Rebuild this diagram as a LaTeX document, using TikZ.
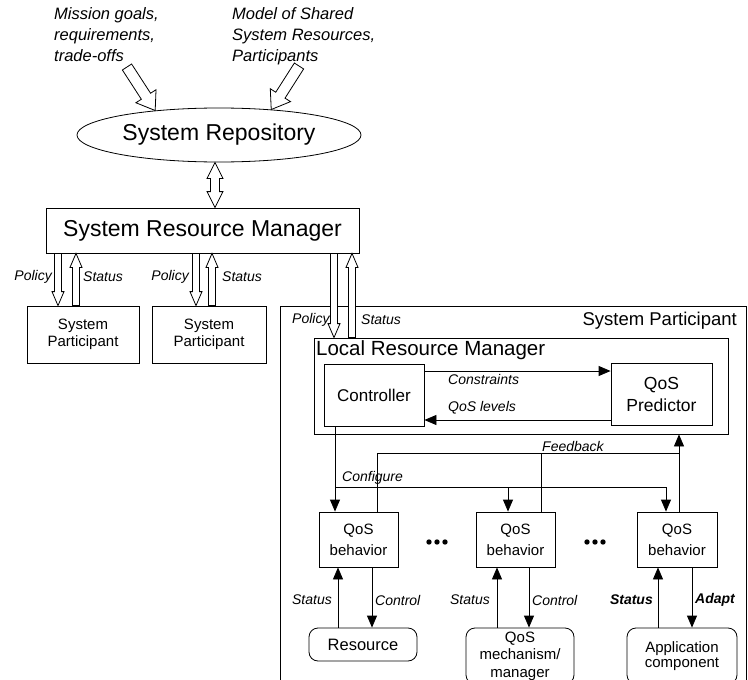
\documentclass[tikz,border=0pt]{standalone}
\usepackage{fontspec}
\setmainfont{Liberation Sans}
\usetikzlibrary{shapes.geometric,arrows.meta,calc}
\newcommand\fs[2]{\fontsize{#1}{#2}\selectfont}
% hollow block arrow: #1 shaft half width, #2 head half width, #3 head length, #4 from, #5 to
\newcommand\harrow[5]{%
  \coordinate (ha) at #4; \coordinate (hb) at #5;
  \coordinate (hm) at ($(hb)!#3!(ha)$);
  \draw[hollow] ($(ha)!#1!90:(hb)$) -- ($(hm)!#1!90:(hb)$) -- ($(hm)!#2!90:(hb)$) -- (hb)
    -- ($(hm)!#2!-90:(hb)$) -- ($(hm)!#1!-90:(hb)$) -- ($(ha)!#1!-90:(hb)$) -- cycle;}
% hollow double-headed block arrow
\newcommand\dharrow[5]{%
  \coordinate (ha) at #4; \coordinate (hb) at #5;
  \coordinate (hm) at ($(hb)!#3!(ha)$);
  \coordinate (hn) at ($(ha)!#3!(hb)$);
  \draw[hollow] (ha) -- ($(hn)!#2!90:(hb)$) -- ($(hn)!#1!90:(hb)$) -- ($(hm)!#1!90:(hb)$) -- ($(hm)!#2!90:(hb)$) -- (hb)
    -- ($(hm)!#2!-90:(hb)$) -- ($(hm)!#1!-90:(hb)$) -- ($(hn)!#1!-90:(hb)$) -- ($(hn)!#2!-90:(hb)$) -- cycle;}
\tikzset{
  box/.style={draw, line width=0.8pt, inner sep=0pt, align=center, fill=white},
  rbox/.style={box, rounded corners=9pt},
  lab/.style={inner sep=0pt, font=\fs{14}{16}\itshape},
  blab/.style={inner sep=0pt, font=\fs{14}{16}\bfseries\itshape},
  arr/.style={line width=0.8pt, -{Triangle[length=12pt,width=10pt]}},
  ln/.style={line width=0.8pt},
  hollow/.style={draw, line width=0.8pt, fill=white, line join=miter},
}
\begin{document}
\begin{tikzpicture}[x=1pt,y=-1pt]
\useasboundingbox (0,0) rectangle (748,680);
\clip (0,0) rectangle (748,680);

% top inputs
\node[anchor=north west, inner sep=0pt, align=left, font=\fs{16.5}{21}\itshape] (goals) at (54,7)
  {Mission goals,\\requirements,\\trade-offs};
\node[anchor=north west, inner sep=0pt, align=left, font=\fs{16.5}{21}\itshape] (model) at (232,7)
  {Model of Shared\\System Resources,\\Participants};

\node[box, ellipse, minimum width=284pt, minimum height=54pt, font=\fs{23}{26}] (repo) at (219,135) {System Repository};
\node[box, minimum width=313pt, minimum height=45pt, font=\fs{23}{26}] (srm) at (202.5,230.5) {System Resource Manager};
\node[box, minimum width=112pt, minimum height=57pt, font=\fs{15}{17}] (sp1) at (83,334.5) {System\\Participant};
\node[box, minimum width=114pt, minimum height=57pt, font=\fs{15}{17}] (sp2) at (209,334.5) {System\\Participant};

% big participant
\node[box, fill=none, minimum width=466pt, minimum height=400pt] (spbig) at (513,506) {};
\node[anchor=east, inner sep=0pt, font=\fs{18.5}{22}] (splab) at (737,321) {System Participant};
\node[box, minimum width=414pt, minimum height=96pt] (lrm) at (521,386) {};
\node[anchor=west, inner sep=0pt, font=\fs{20.5}{24}] (lrmlab) at (316,350) {Local Resource Manager};
\node[box, minimum width=100pt, minimum height=62pt, font=\fs{17}{20}] (ctrl) at (374,395) {Controller};
\node[box, minimum width=101pt, minimum height=62pt, font=\fs{17.5}{22}] (pred) at (661.5,394) {QoS\\Predictor};

\node[box, minimum width=79pt, minimum height=55pt, font=\fs{15}{21}] (qb1) at (358.5,539.5) {QoS\\behavior};
\node[box, minimum width=79pt, minimum height=55pt, font=\fs{15}{21}] (qb2) at (515.5,539.5) {QoS\\behavior};
\node[box, minimum width=80pt, minimum height=55pt, font=\fs{15}{21}] (qb3) at (677,539.5) {QoS\\behavior};

\node[rbox, minimum width=108pt, minimum height=33pt, font=\fs{16.5}{19}] (res) at (363,644.5) {Resource};
\node[rbox, minimum width=108pt, minimum height=56pt, font=\fs{15}{17.5}] (mech) at (520,656) {QoS\\mechanism/\\manager};
\node[rbox, minimum width=110pt, minimum height=56pt, font=\fs{15}{15.5}] (app) at (682,656) {Application\\component};

% dots
\fill (429,542) circle (2.7pt) (437,542) circle (2.7pt) (445,542) circle (2.7pt);
\fill (587,542) circle (2.7pt) (595,542) circle (2.7pt) (603,542) circle (2.7pt);

% hollow arrows
\coordinate (g1) at (127,67);
\coordinate (m1) at (299,66);
\harrow{5.5pt}{12pt}{17pt}{(g1)}{(repo.159)}
\harrow{5.5pt}{12pt}{17pt}{(m1)}{(repo.26)}
\dharrow{4.5pt}{8pt}{16pt}{([xshift=-4pt]repo.south)}{([xshift=-4pt]repo.south |- srm.north)}

\harrow{3.5pt}{6pt}{14pt}{([xshift=-144.5pt]srm.south)}{([xshift=-144.5pt]srm.south |- sp1.north)}
\harrow{3.5pt}{6pt}{14pt}{([xshift=-126.5pt]srm.south |- sp1.north)}{([xshift=-126.5pt]srm.south)}
\harrow{3.5pt}{6pt}{14pt}{([xshift=-6.5pt]srm.south)}{([xshift=-6.5pt]srm.south |- sp2.north)}
\harrow{3.5pt}{6pt}{14pt}{([xshift=9.5pt]srm.south |- sp2.north)}{([xshift=9.5pt]srm.south)}
\harrow{3.5pt}{6pt}{14pt}{([xshift=131.5pt]srm.south)}{([xshift=131.5pt]srm.south |- lrm.north)}
\harrow{3.5pt}{6pt}{14pt}{([xshift=149.5pt]srm.south |- lrm.north)}{([xshift=149.5pt]srm.south)}

\node[lab, anchor=east] (pol1) at (52,277) {Policy};
\node[lab, anchor=west] (st1) at (83,277) {Status};
\node[lab, anchor=east] (pol2) at (189,277) {Policy};
\node[lab, anchor=west] (st2) at (222,277) {Status};
\node[lab, anchor=west] (pol3) at (292,320) {Policy};
\node[lab, anchor=west] (st3) at (361,320) {Status};

% controller <-> predictor
\draw[arr] ([yshift=24pt]ctrl.east) -- ([yshift=24pt]ctrl.east -| pred.west);
\draw[arr] ([yshift=-26pt]pred.west) -- ([yshift=-26pt]pred.west -| ctrl.east);
\node[lab, anchor=west] (cons) at (448,379) {Constraints};
\node[lab, anchor=west] (qosl) at (448,408) {QoS levels};

% configure
\coordinate (cfgy) at (0,487);
\draw[arr] ([xshift=-39pt]ctrl.south) -- ([xshift=-39pt]ctrl.south |- qb1.north);
\draw[ln] ([xshift=-39pt]ctrl.south |- cfgy) -- ([xshift=-11pt]qb3.north |- cfgy);
\draw[arr] ([xshift=-7.5pt]qb2.north |- cfgy) -- ([xshift=-7.5pt]qb2.north);
\draw[arr] ([xshift=-11pt]qb3.north |- cfgy) -- ([xshift=-11pt]qb3.north);
\node[lab, anchor=west] (cfg) at (342,478) {Configure};

% feedback
\coordinate (fby) at (0,453);
\draw[ln] ([xshift=18.5pt]qb1.north) -- ([xshift=18.5pt]qb1.north |- fby) -- ([xshift=2pt]qb3.north |- fby);
\draw[ln] ([xshift=25.5pt]qb2.north) -- ([xshift=25.5pt]qb2.north |- fby);
\draw[arr] ([xshift=2pt]qb3.north) -- ([xshift=2pt]qb3.north |- lrm.south);
\node[lab, anchor=west] (fb) at (542,446) {Feedback};

% status / control
\draw[arr] ([xshift=-20.5pt]qb1.south |- res.north) -- ([xshift=-20.5pt]qb1.south);
\draw[arr] ([xshift=13.5pt]qb1.south) -- ([xshift=13.5pt]qb1.south |- res.north);
\draw[arr] ([xshift=-18.5pt]qb2.south |- mech.north) -- ([xshift=-18.5pt]qb2.south);
\draw[arr] ([xshift=13.5pt]qb2.south) -- ([xshift=13.5pt]qb2.south |- mech.north);
\draw[arr] ([xshift=-19pt]qb3.south |- app.north) -- ([xshift=-19pt]qb3.south);
\draw[arr] ([xshift=15pt]qb3.south) -- ([xshift=15pt]qb3.south |- app.north);
\node[lab, anchor=east] (s1) at (332,600) {Status};
\node[lab, anchor=west] (c1) at (375,600) {Control};
\node[lab, anchor=east] (s2) at (490,600) {Status};
\node[lab, anchor=west] (c2) at (532,600) {Control};
\node[blab, anchor=east] (s3) at (653,600) {Status};
\node[blab, anchor=west] (a3) at (695,600) {Adapt};
\end{tikzpicture}
\end{document}
